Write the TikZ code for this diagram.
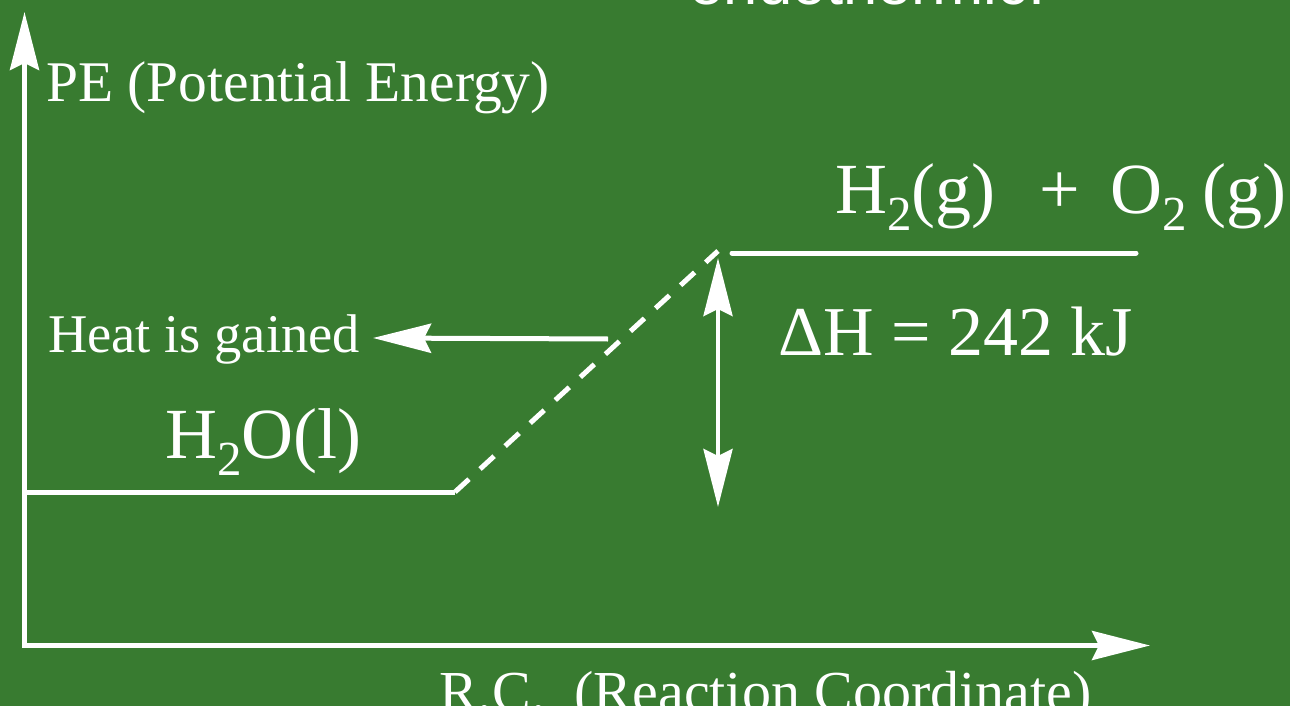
\documentclass[tikz,border=0pt]{standalone}
\usepackage{fontspec}
\setmainfont{Liberation Serif}
\newfontfamily\titlefont{Liberation Sans}
\usetikzlibrary{arrows.meta}
\definecolor{bggreen}{RGB}{56,123,48}
\newcommand\chemsub[1]{\raisebox{-0.24em}{\fontsize{49}{49}\selectfont #1}}
\tikzset{
  wline/.style={white,line width=5pt},
  >={Stealth[length=58pt,width=29pt,inset=7pt]},
  lbl/.style={text=white,inner sep=0pt,anchor=base west},
  dashline/.style={white,line width=5pt,dash pattern=on 19pt off 15pt},
}
\begin{document}
\begin{tikzpicture}[x=1pt,y=-1pt]
\fill[bggreen] (0,0) rectangle (1290,706);
\useasboundingbox (0,0) rectangle (1290,706);
\clip (0,0) rectangle (1290,706);

% coordinates
\coordinate (ytop) at (24.5,12);
\coordinate (origin) at (24.5,645.5);
\coordinate (xend) at (1150,645.5);
\coordinate (lowL) at (24.5,492);
\coordinate (lowR) at (455,492);
\coordinate (upL) at (732,253);
\coordinate (upR) at (1136,253);
\coordinate (ts) at (718,251);
\coordinate (dht) at (718,258);
\coordinate (dhb) at (718,507);
\coordinate (heatS) at (608,339);
\coordinate (heatT) at (373,338);

% axes
\draw[wline,<->] (ytop) -- (origin) -- (xend);

% levels
\draw[wline] (lowL) -- (lowR);
\draw[wline,line cap=round] (upL) -- (upR);
\draw[dashline] (lowR) -- (ts);

% Delta H arrow
\draw[white,line width=4.5pt,<->] (dht) -- (dhb);

% heat arrow
\draw[wline,->] (heatS) -- (heatT);

% labels
\node[lbl,font=\titlefont\fontsize{61.5}{61.5}\selectfont] (title) at (689.5,5) {endothermic:};
\node[lbl,font=\fontsize{57.5}{57.5}\selectfont] (pe) at (46,102) {PE (Potential Energy)};
\node[lbl,font=\fontsize{54.5}{54.5}\selectfont] (heat) at (48,352) {Heat is gained};
\node[lbl,font=\fontsize{72}{72}\selectfont] (water) at (165,458) {H\chemsub{2}O(l)};
\node[lbl,font=\fontsize{72}{72}\selectfont] (react) at (835,213) {H\chemsub{2}(g)\hspace{44pt}+\hspace{30pt}O\chemsub{2}\hspace{16pt}(g)};
\node[lbl,font=\fontsize{70}{70}\selectfont] (dh) at (778,355) {ΔH = 242 kJ};
\node[lbl,font=\fontsize{58}{58}\selectfont] (rc) at (439,711) {R.C.\ \ (Reaction Coordinate)};
\end{tikzpicture}
\end{document}
